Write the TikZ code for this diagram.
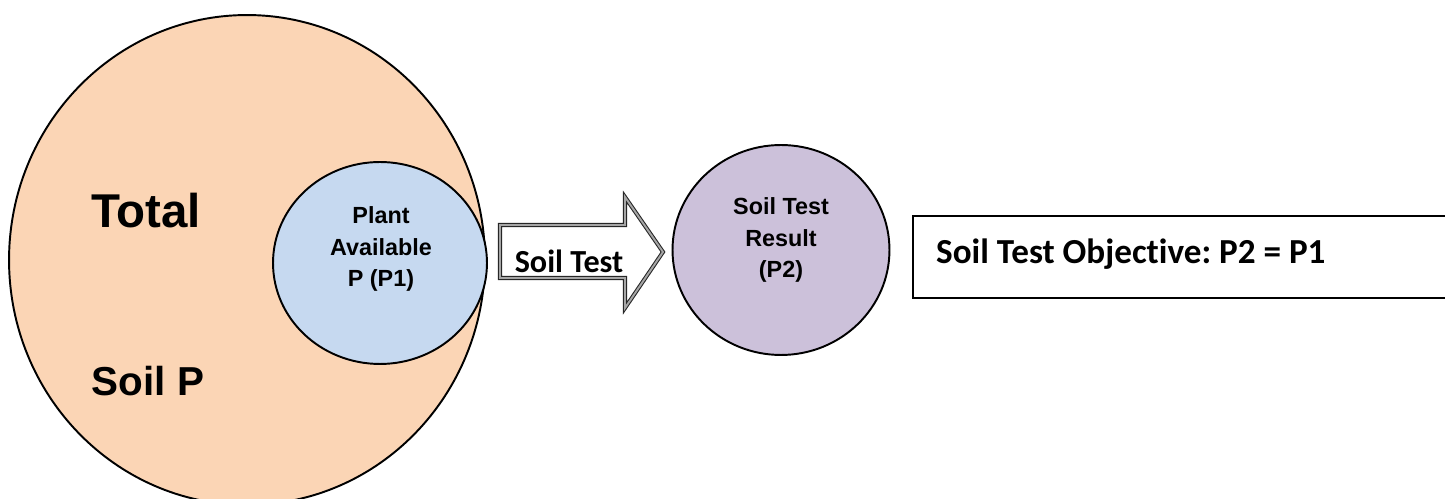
\documentclass[tikz,border=0pt]{standalone}
\usepackage{fontspec}
\setmainfont{Liberation Sans}
\newfontfamily\calibfont[Ligatures=NoCommon]{Carlito}
\usetikzlibrary{shapes.geometric,positioning}
\definecolor{soilpeach}{HTML}{FBD5B5}
\definecolor{availblue}{HTML}{C6D9F0}
\definecolor{resultlilac}{HTML}{CCC1DA}
\tikzset{
    pool/.style={ellipse, draw=black, line width=1.1pt, inner sep=0pt},
    pooltext/.style={align=center, font=\bfseries\fontsize{13.3}{18}\selectfont},
    bigtext/.style={font=\bfseries\fontsize{#1}{#1}\selectfont},
    calibtext/.style={font=\calibfont\bfseries\fontsize{#1}{#1}\selectfont},
}
\frenchspacing

\begin{document}
\begin{tikzpicture}[x=0.02cm, y=-0.02cm]
    \path[use as bounding box] (0,0) rectangle (1445,499);
    \clip (0,0) rectangle (1445,499);

    % total soil P with the available pool inside
    \node[pool, fill=soilpeach, minimum width=9.52cm, minimum height=9.8cm] (total) at (247,260) {};
    \node[bigtext=27] (totalword) at (146,211) {Total};
    \node[bigtext=23] (soilp) at (148,381) {Soil P};
    \node[pool, fill=availblue, minimum width=4.28cm, minimum height=4.04cm] (avail) at (380,263) {};
    \node[pooltext] (availtext) at (381,249) {Plant\\Available\\P (P1)};

    % block arrow
    \draw[draw=black!85, line width=0.6pt, double=gray!70, double distance=1.1pt]
        (500,225) -- (625,225) -- (625,197) -- (663,252) -- (625,308) -- (625,278) -- (500,278) -- cycle;
    \node[calibtext=18.3] (testword) at (569,261) {Soil Test};

    % result
    \node[pool, fill=resultlilac, minimum width=4.34cm, minimum height=4.2cm] (result) at (781,250) {};
    \node[pooltext] (resulttext) at (781,240) {Soil Test\\Result\\(P2)};

    % objective
    \node[draw, line width=1.1pt, anchor=north west, minimum width=10.8cm, minimum height=1.64cm] (objbox) at (912,215) {};
    \node[calibtext=20, anchor=west] (objtext) at ([xshift=0.36cm, yshift=0.06cm]objbox.west) {Soil Test Objective: P2 = P1};
\end{tikzpicture}
\end{document}
